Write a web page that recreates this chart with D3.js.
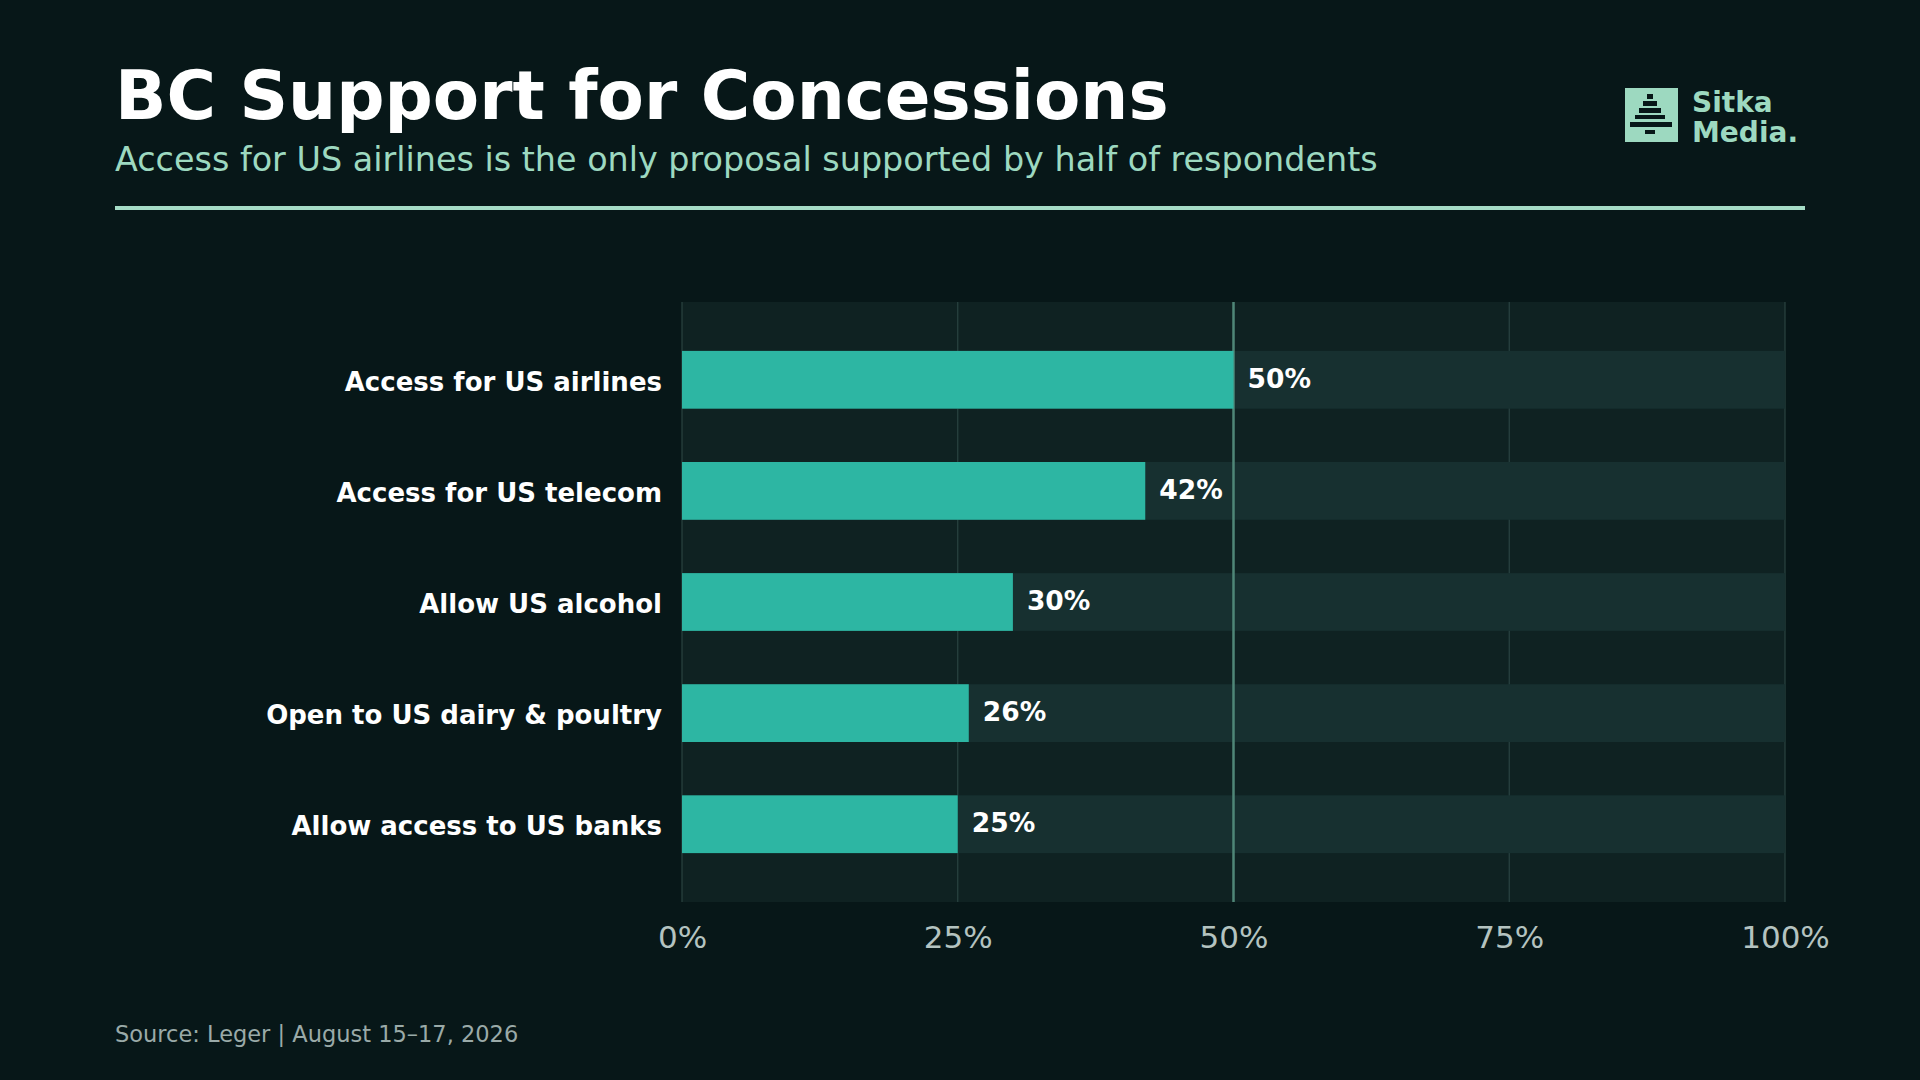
<!DOCTYPE html>
<html><head><meta charset="utf-8">
<script src="https://cdn.jsdelivr.net/npm/d3@7"></script>
<style>body{margin:0;background:#071718;}svg{display:block;font-family:"DejaVu Sans",sans-serif;}</style>
</head><body><div id="chart"></div>
<script>
const categories = ['Access for US airlines', 'Access for US telecom', 'Allow US alcohol', 'Open to US dairy & poultry', 'Allow access to US banks'];
const values = [50, 42, 30, 26, 25];
const ticks = [0, 25, 50, 75, 100];

const W = 1920, H = 1080;
const m = { left: 682, right: 135, top: 302, bottom: 178 };
const svg = d3.select('#chart').append('svg').attr('width', W).attr('height', H);
svg.append('rect').attr('width', W).attr('height', H).attr('fill', '#071718');

svg.append('text').attr('x', 115).attr('y', 119).attr('fill', '#ffffff')
  .attr('font-size', 67.5).attr('font-weight', 'bold').text('BC Support for Concessions');
svg.append('text').attr('x', 115).attr('y', 171).attr('fill', '#9dd9c0')
  .attr('font-size', 33.4).text('Access for US airlines is the only proposal supported by half of respondents');
svg.append('rect').attr('x', 115).attr('y', 206).attr('width', 1690).attr('height', 4).attr('fill', '#a5dcc6');

// logo
const logo = svg.append('g');
logo.append('rect').attr('x', 1625).attr('y', 88).attr('width', 53).attr('height', 54).attr('fill', '#9dd9c0');
[[1647, 94, 6, 5], [1643, 101, 14, 5], [1639, 108, 22, 5], [1635, 115, 30, 4], [1630, 122, 42, 5], [1645, 130, 10, 4]]
  .forEach(([x, y, w, h]) => logo.append('rect').attr('x', x).attr('y', y).attr('width', w).attr('height', h).attr('fill', '#071718'));
logo.append('text').attr('x', 1692).attr('y', 112).attr('fill', '#9dd9c0').attr('font-size', 28).attr('font-weight', 'bold').text('Sitka');
logo.append('text').attr('x', 1692).attr('y', 142).attr('fill', '#9dd9c0').attr('font-size', 28).attr('font-weight', 'bold').text('Media.');

const x = d3.scaleLinear().domain([0, 100]).range([m.left, W - m.right]);
const y = d3.scaleBand().domain(categories).range([m.top, H - m.bottom]).paddingInner(0.48).paddingOuter(0.44);

svg.append('rect').attr('x', x(0)).attr('y', m.top).attr('width', x(100) - x(0)).attr('height', H - m.bottom - m.top).attr('fill', '#0f2222');
svg.selectAll('.grid').data(ticks).join('line')
  .attr('x1', d => x(d)).attr('x2', d => x(d)).attr('y1', m.top).attr('y2', H - m.bottom)
  .attr('stroke', '#2a4341').attr('stroke-width', 1.2);

svg.selectAll('.track').data(categories).join('rect')
  .attr('x', x(0)).attr('y', d => y(d)).attr('width', x(100) - x(0)).attr('height', y.bandwidth()).attr('fill', '#173030');
svg.append('line').attr('x1', x(50)).attr('x2', x(50)).attr('y1', m.top).attr('y2', H - m.bottom)
  .attr('stroke', '#4f8677').attr('stroke-width', 2.5);
svg.selectAll('.bar').data(values).join('rect')
  .attr('x', x(0)).attr('y', (d, i) => y(categories[i])).attr('width', d => x(d) - x(0)).attr('height', y.bandwidth()).attr('fill', '#2db6a3');
svg.selectAll('.val').data(values).join('text')
  .attr('x', d => x(d) + 14).attr('y', (d, i) => y(categories[i]) + y.bandwidth() / 2).attr('dy', '0.3em')
  .attr('fill', '#ffffff').attr('font-size', 26.5).attr('font-weight', 'bold').text(d => d + '%');

const yAxis = svg.append('g').attr('transform', `translate(${m.left - 20},0)`)
  .call(d3.axisLeft(y).tickSize(0).tickPadding(0));
yAxis.select('.domain').remove();
yAxis.selectAll('text').attr('fill', '#ffffff').attr('font-size', 26).attr('font-weight', 'bold')
  .attr('font-family', '"DejaVu Sans",sans-serif').attr('dy', '0.42em');

const xAxis = svg.append('g').attr('transform', `translate(0,${H - m.bottom + 14})`)
  .call(d3.axisBottom(x).tickValues(ticks).tickSize(0).tickFormat(d => d + '%'));
xAxis.select('.domain').remove();
xAxis.selectAll('text').attr('fill', '#b4c3c0').attr('font-size', 31).attr('font-family', '"DejaVu Sans",sans-serif').attr('dy', '0.95em');

svg.append('text').attr('x', 115).attr('y', 1042).attr('fill', '#9aaaa8').attr('font-size', 22.5)
  .text('Source: Leger | August 15–17, 2026');
</script></body></html>
